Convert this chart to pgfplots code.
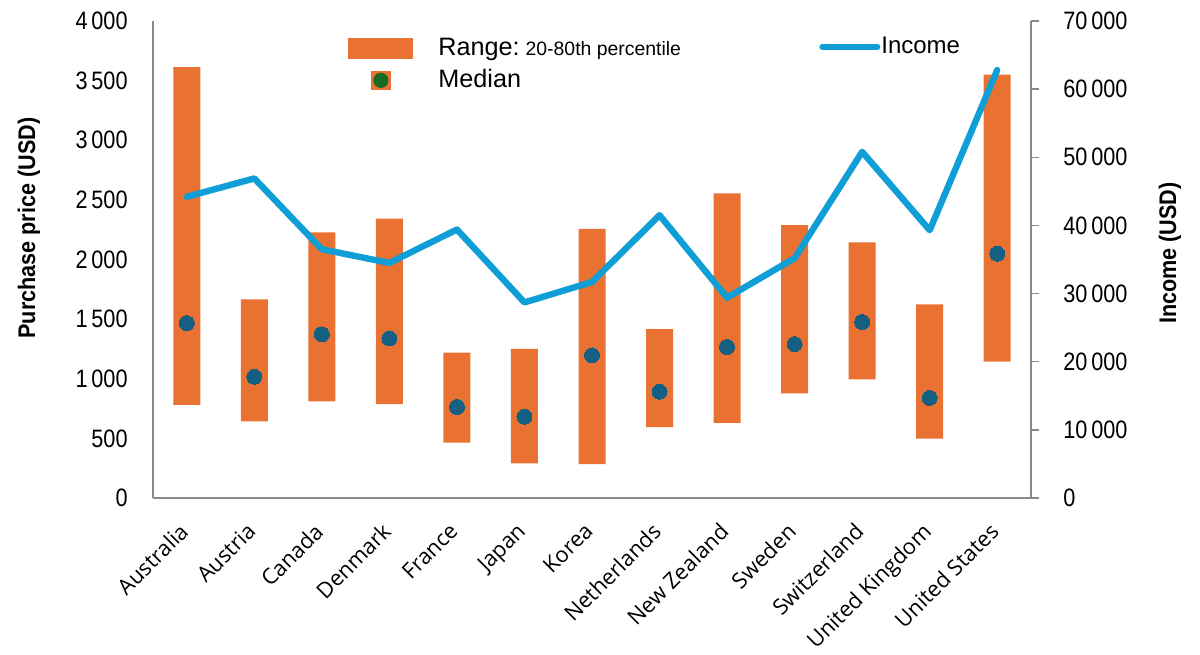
\documentclass[border=0pt]{standalone}
\usepackage{fontspec}
\setmainfont{Liberation Sans}
\newfontfamily\tnfont[FakeStretch=0.86]{Liberation Sans}
\newfontfamily\legfont{Liberation Sans}
\newfontfamily\titlefont[FakeStretch=0.9]{Liberation Sans}
\newfontfamily\catfont{Open Sans}
\usepackage{pgfplots}
\usepackage{pgfplotstable}
\pgfplotsset{compat=1.18}
\definecolor{rangeor}{HTML}{E97132}
\definecolor{medblue}{HTML}{156082}
\definecolor{incblue}{HTML}{0F9ED5}
\definecolor{medgreen}{HTML}{196B24}
\definecolor{axgray}{HTML}{898989}

\pgfplotstableread{
x lo hi med inc
0 780 3614 1467 44200
1 643 1666 1017 46900
2 811 2228 1373 36500
3 788 2342 1339 34500
4 464 1219 763 39400
5 291 1250 682 28700
6 285 2256 1196 31700
7 595 1417 892 41500
8 629 2555 1266 29400
9 878 2289 1291 35200
10 995 2144 1476 50800
11 498 1624 839 39300
12 1143 3550 2049 62800
}\data

\begin{document}
\begin{tikzpicture}
\useasboundingbox (0,0) rectangle (600pt,327pt);
% --- range bars, left axis ---
\begin{axis}[
  at={(76.5pt,78pt)}, anchor=south west,
  scale only axis, width=439pt, height=238.5pt,
  xmin=-0.5, xmax=12.5, ymin=0, ymax=4000,
  axis lines*=left,
  axis line style={draw=axgray, line width=0.75pt},
  ybar stacked, bar width=13.5pt,
  xtick={0,...,12},
  xticklabels={Australia,Austria,Canada,Denmark,France,Japan,Korea,Netherlands,New Zealand,Sweden,Switzerland,United Kingdom,United States},
  xticklabel style={font=\catfont\fontsize{10.9}{12}\selectfont, xshift=-4.4pt, yshift=-11.6pt, rotate=45, anchor=north east, inner sep=0pt},
  ytick={0,500,...,4000},
  major tick length=0pt,
  yticklabel style={font=\tnfont\fontsize{12.6}{13}\selectfont, anchor=east, inner sep=0pt, xshift=-12.5pt},
  /pgf/number format/assume math mode=true,
  /pgf/number format/1000 sep={\hspace{0.15em}},
  scaled y ticks=false,
  ylabel={Purchase price (USD)},
  ylabel style={font=\titlefont\bfseries\fontsize{12}{13}\selectfont, at={(axis description cs:-0.1412,0.566)}, anchor=center},
  legend style={draw=none, fill=none, at={(axis description cs:0.2221,0.9686)}, anchor=north west, inner sep=0pt, row sep=3.5pt, font=\legfont\fontsize{12.6}{14}\selectfont, nodes={inner sep=1pt}},
  legend cell align=left,
]
\addplot[draw=none, fill=none, forget plot] table[x=x, y=lo]{\data};
\addplot[fill=rangeor, draw=none,
  legend image code/.code={\fill[rangeor] (0pt,-5.25pt) rectangle (32.5pt,5.25pt); \path[draw=none,fill=none] (0pt,0pt) -- (44pt,0pt);}]
  table[x=x, y expr=\thisrow{hi}-\thisrow{lo}]{\data};
\addlegendentry{Range:\hspace{3pt}{\fontsize{9.7}{10}\selectfont 20-80th percentile}}
\addlegendimage{legend image code/.code={\fill[rangeor] (11.5pt,-4.5pt) rectangle (21pt,4.5pt); \fill[medgreen] (16.25pt,0pt) circle (3.6pt); \path[draw=none,fill=none] (0pt,0pt) -- (44pt,0pt);}}
\addlegendentry{Median}
\end{axis}
% --- medians ---
\begin{axis}[
  at={(76.5pt,78pt)}, anchor=south west,
  scale only axis, width=439pt, height=238.5pt,
  xmin=-0.5, xmax=12.5, ymin=0, ymax=4000,
  hide axis, clip=false,
]
\addplot[medblue, only marks, mark=*, mark size=3.75pt, mark options={fill=medblue, draw=medblue, line width=0pt}] table[x=x, y=med]{\data};
\end{axis}
% --- income, right axis ---
\begin{axis}[
  at={(76.5pt,78pt)}, anchor=south west,
  scale only axis, width=439pt, height=238.5pt,
  xmin=-0.5, xmax=12.5, ymin=0, ymax=70000,
  axis x line=none, axis y line*=right,
  axis line style={draw=axgray, line width=0.75pt},
  ytick={0,10000,...,70000},
  tick align=outside, major tick length=4pt,
  ytick style={draw=axgray, line width=0.75pt},
  yticklabel style={font=\tnfont\fontsize{12.6}{13}\selectfont, anchor=west, inner sep=0pt, xshift=12pt},
  /pgf/number format/assume math mode=true,
  /pgf/number format/1000 sep={\hspace{0.15em}},
  scaled y ticks=false,
  ylabel={Income (USD)},
  ylabel style={font=\titlefont\bfseries\fontsize{12}{13}\selectfont, at={(axis description cs:1.1583,0.5136)}, anchor=center},
  clip=false,
  legend style={draw=none, fill=none, at={(axis description cs:0.7585,0.9455)}, anchor=west, inner sep=0pt, font=\legfont\fontsize{12}{13}\selectfont, nodes={inner sep=0.5pt}},
]
\addplot[incblue, line width=3.2pt, line join=round, line cap=round, mark=none,
  legend image code/.code={\draw[incblue, line width=3pt, line cap=round] (0pt,0pt) -- (27.5pt,0pt);}]
  table[x=x, y=inc]{\data};
\addlegendentry{Income}
\end{axis}
\end{tikzpicture}
\end{document}
